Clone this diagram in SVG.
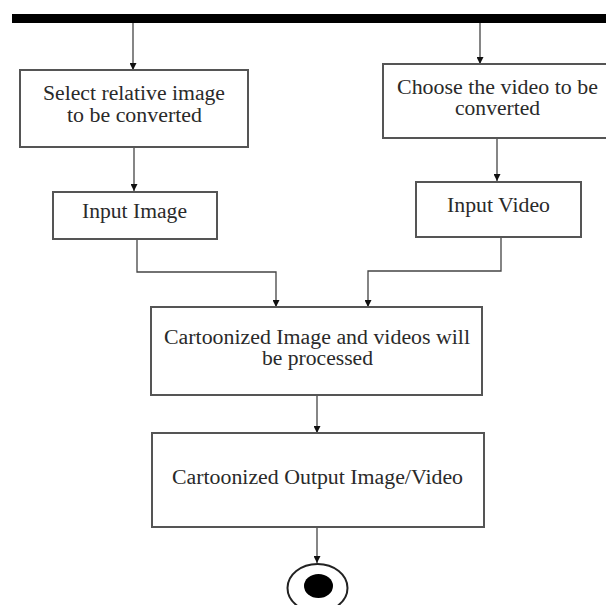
<svg xmlns="http://www.w3.org/2000/svg" width="606" height="605" viewBox="0 0 606 605">
<defs>
<marker id="ah" viewBox="0 0 10 10" refX="10" refY="5" markerWidth="7" markerHeight="7" markerUnits="userSpaceOnUse" orient="auto">
<path d="M0,0 L10,5 L0,10 Z" fill="#111"/>
</marker>
<style>
.box{fill:#fff;stroke:#555;stroke-width:2}
.t{font-family:"Liberation Serif","Times New Roman",serif;font-size:20.5px;fill:#2a2a2a;text-anchor:middle}
.c{fill:none;stroke:#444;stroke-width:1.3}
</style>
</defs>
<rect width="606" height="605" fill="#fff"/>
<rect id="fork" x="12" y="14" width="594" height="9" fill="#000"/>
<g id="connectors">
<path class="c" d="M133,23 V70" marker-end="url(#ah)"/>
<path class="c" d="M480,23 V64" marker-end="url(#ah)"/>
<path class="c" d="M134,147 V191" marker-end="url(#ah)"/>
<path class="c" d="M497,138 V181" marker-end="url(#ah)"/>
<path class="c" d="M137,239 V272 H276 V307" marker-end="url(#ah)"/>
<path class="c" d="M501,237 V271 H368 V307" marker-end="url(#ah)"/>
<path class="c" d="M317,395 V433" marker-end="url(#ah)"/>
<path class="c" d="M317,527 V563" marker-end="url(#ah)"/>
</g>
<g id="select-image">
<rect class="box" x="20" y="70" width="228" height="77"/>
<text class="t" x="134" y="100" textLength="182" lengthAdjust="spacingAndGlyphs">Select relative image</text>
<text class="t" x="134.5" y="122" textLength="135" lengthAdjust="spacingAndGlyphs">to be converted</text>
</g>
<g id="choose-video">
<rect class="box" x="383" y="64" width="240" height="74"/>
<text class="t" x="497.5" y="94" textLength="201" lengthAdjust="spacingAndGlyphs">Choose the video to be</text>
<text class="t" x="497.5" y="115" textLength="85" lengthAdjust="spacingAndGlyphs">converted</text>
</g>
<g id="input-image">
<rect class="box" x="53" y="192" width="164" height="47"/>
<text class="t" x="134.5" y="218" textLength="105" lengthAdjust="spacingAndGlyphs">Input Image</text>
</g>
<g id="input-video">
<rect class="box" x="416" y="182" width="165" height="55"/>
<text class="t" x="498.5" y="212" textLength="103" lengthAdjust="spacingAndGlyphs">Input Video</text>
</g>
<g id="process">
<rect class="box" x="151" y="307" width="331" height="88"/>
<text class="t" x="317" y="344" textLength="306" lengthAdjust="spacingAndGlyphs">Cartoonized Image and videos will</text>
<text class="t" x="317.5" y="365" textLength="111" lengthAdjust="spacingAndGlyphs">be processed</text>
</g>
<g id="output">
<rect class="box" x="152" y="433" width="332" height="94"/>
<text class="t" x="317.5" y="484" textLength="291" lengthAdjust="spacingAndGlyphs">Cartoonized Output Image/Video</text>
</g>
<g id="end">
<ellipse cx="317.5" cy="588" rx="30" ry="24" fill="#fff" stroke="#222" stroke-width="2"/>
<ellipse cx="318.5" cy="586" rx="14.5" ry="12" fill="#000"/>
</g>
</svg>
